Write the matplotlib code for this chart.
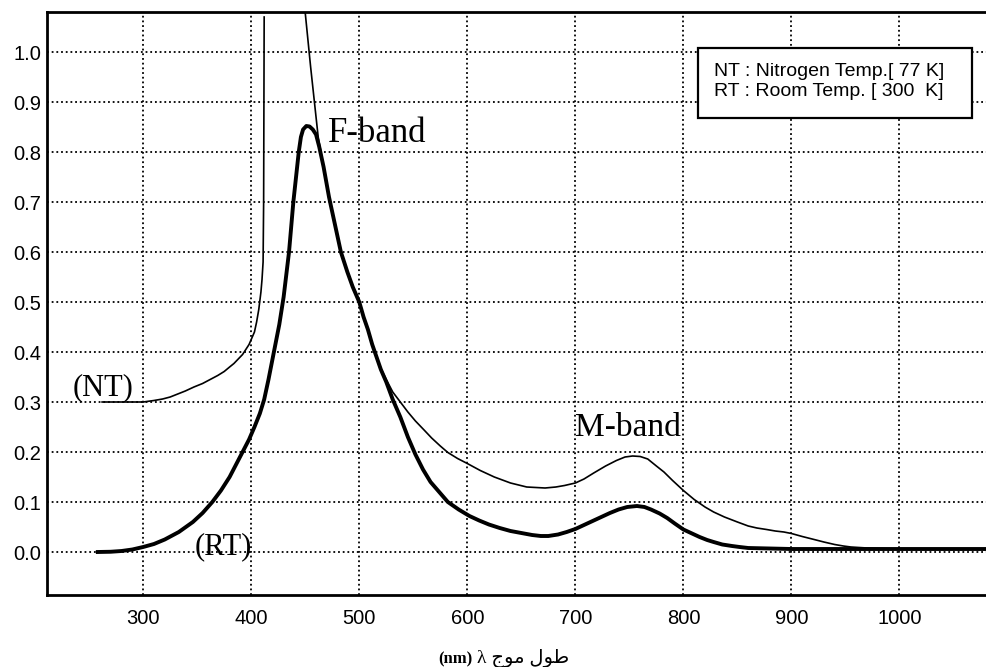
import numpy as np
import matplotlib.pyplot as plt
from matplotlib.patches import Rectangle

# absorption spectra
# room temperature (thick line)
rt_nm  = [258, 270, 280, 290, 300, 310, 320, 333, 346, 355, 364, 372, 380, 386,
          392, 398, 403, 408, 412, 416, 421, 426, 430, 435, 439, 442, 444, 446,
          448, 451, 454, 457, 460, 463, 467, 472, 478, 483, 489, 494, 500, 504,
          508, 512, 516, 520, 525, 531, 538, 545, 552, 559, 566, 574, 582, 592,
          602, 611, 620, 630, 640, 650, 660, 668, 675, 684, 692, 700, 708, 716,
          724, 732, 740, 748, 757, 764, 770, 778, 785, 792, 800, 808, 815, 822,
          828, 836, 845, 852, 860, 880, 900, 950, 1000, 1080]
rt_abs = [0.0, 0.0005, 0.002, 0.005, 0.01, 0.016, 0.025, 0.04, 0.06, 0.078, 0.10, 0.123, 0.15, 0.175,
          0.20, 0.225, 0.25, 0.277, 0.305, 0.345, 0.40, 0.455, 0.51, 0.60, 0.70, 0.76, 0.80, 0.83,
          0.845, 0.852, 0.851, 0.845, 0.835, 0.81, 0.77, 0.71, 0.65, 0.60, 0.56, 0.53, 0.50, 0.47,
          0.445, 0.415, 0.39, 0.365, 0.34, 0.305, 0.27, 0.23, 0.195, 0.165, 0.14, 0.12, 0.10, 0.085,
          0.072, 0.063, 0.055, 0.048, 0.042, 0.038, 0.034, 0.032, 0.032, 0.035, 0.04, 0.046, 0.054, 0.062,
          0.07, 0.078, 0.085, 0.09, 0.092, 0.09, 0.085, 0.077, 0.068, 0.057, 0.045, 0.037, 0.03, 0.024,
          0.02, 0.015, 0.012, 0.01, 0.008, 0.007, 0.006, 0.006, 0.006, 0.006]

# nitrogen temperature (thin line), nan = goes off the top of the chart
nt_nm  = [262, 280, 300, 310, 318, 325, 332, 339, 347, 355, 362, 369, 375, 380,
          384, 388, 392, 395, 398, 400, 403, 405, 407, 409, 410, 411, 411.5, 412,
          430, 449, 455, 462, 467, 472, 478, 483, 489, 494, 500, 504, 508, 512,
          516, 520, 525, 531, 538, 545, 552, 560, 567, 575, 582, 591, 600, 612,
          625, 640, 655, 672, 682, 690, 700, 708, 717, 728, 738, 746, 753, 760,
          767, 775, 782, 790, 800, 810, 820, 828, 838, 850, 860, 868, 877, 885,
          893, 900, 910, 921, 930, 940, 948, 955, 970, 1000, 1080]
nt_abs = [0.30, 0.30, 0.30, 0.303, 0.306, 0.31, 0.316, 0.322, 0.33, 0.337, 0.345, 0.353, 0.361, 0.37,
          0.377, 0.386, 0.395, 0.405, 0.415, 0.425, 0.44, 0.46, 0.485, 0.52, 0.545, 0.58, 0.70, 1.07,
          np.nan, 1.10, 0.97, 0.83, 0.77, 0.71, 0.65, 0.60, 0.56, 0.53, 0.50, 0.47, 0.445, 0.415,
          0.39, 0.367, 0.345, 0.32, 0.30, 0.28, 0.262, 0.244, 0.228, 0.212, 0.199, 0.187, 0.177, 0.163,
          0.15, 0.138, 0.13, 0.128, 0.13, 0.133, 0.138, 0.146, 0.158, 0.172, 0.183, 0.19, 0.192, 0.191,
          0.186, 0.172, 0.16, 0.143, 0.123, 0.105, 0.09, 0.08, 0.07, 0.06, 0.052, 0.048, 0.045, 0.042,
          0.04, 0.037, 0.031, 0.025, 0.02, 0.015, 0.012, 0.01, 0.008, 0.006, 0.006]

x_ticks = [300, 400, 500, 600, 700, 800, 900, 1000]
y_ticks = [0.0, 0.1, 0.2, 0.3, 0.4, 0.5, 0.6, 0.7, 0.8, 0.9, 1.0]
legend_lines = ['NT : Nitrogen Temp.[ 77 K]', 'RT : Room Temp. [ 300  K]']

fig = plt.figure(figsize=(9.87, 6.67), dpi=100)
ax = fig.add_axes([47/987, 72/667, 940/987, 583/667])

ax.plot(nt_nm, nt_abs, color='black', lw=1.2, zorder=3)
ax.plot(rt_nm, rt_abs, color='black', lw=2.8, zorder=3, solid_joinstyle='round')

ax.set_xlim(211, 1081)
ax.set_ylim(-0.086, 1.08)
ax.set_xticks(x_ticks)
ax.set_yticks(y_ticks)
ax.set_yticklabels(['%.1f' % v for v in y_ticks])
ax.tick_params(length=0, labelsize=14.5)
ax.tick_params(axis='x', pad=10)
ax.tick_params(axis='y', pad=4)
for lab in ax.get_xticklabels() + ax.get_yticklabels():
    lab.set_family('Liberation Sans')

ax.set_axisbelow(True)
ax.grid(True, color='black', linestyle=(0, (1, 1.6)), linewidth=1.3)
for s in ['left', 'top', 'bottom']:
    ax.spines[s].set_linewidth(2)
ax.spines['right'].set_visible(False)

# band / curve labels
serif = 'Liberation Serif'
ax.text(471, 0.82, 'F-band', family=serif, fontsize=25, zorder=4)
ax.text(700, 0.233, 'M-band', family=serif, fontsize=24, zorder=4)
ax.text(235, 0.314, '(NT)', family=serif, fontsize=22, zorder=4)
ax.text(348, -0.005, '(RT)', family=serif, fontsize=22, zorder=4)

# legend box
ax.add_patch(Rectangle((0.6926, 0.818), 0.2914, 0.12, transform=ax.transAxes,
                       facecolor='white', edgecolor='black', lw=1.6, zorder=5))
ax.text(0.7096, 0.898, legend_lines[0], transform=ax.transAxes, family='Liberation Sans',
        fontsize=14, va='center', zorder=6)
ax.text(0.7096, 0.863, legend_lines[1], transform=ax.transAxes, family='Liberation Sans',
        fontsize=14, va='center', zorder=6)

# x label: "wavelength λ (nm)" in Persian, glyphs given in display order
fig.text(473/987, 8/667, '(nm)', family=serif, weight='bold', fontsize=12, ha='right', va='center')
fig.text(477/987, 8/667, 'λ \uFE9D\uFEEE\uFEE3 \uFEDD\uFEEE\uFEC3',
         family=[serif, 'DejaVu Sans'], fontsize=14, ha='left', va='center')

fig.savefig('out.png', dpi=100)
